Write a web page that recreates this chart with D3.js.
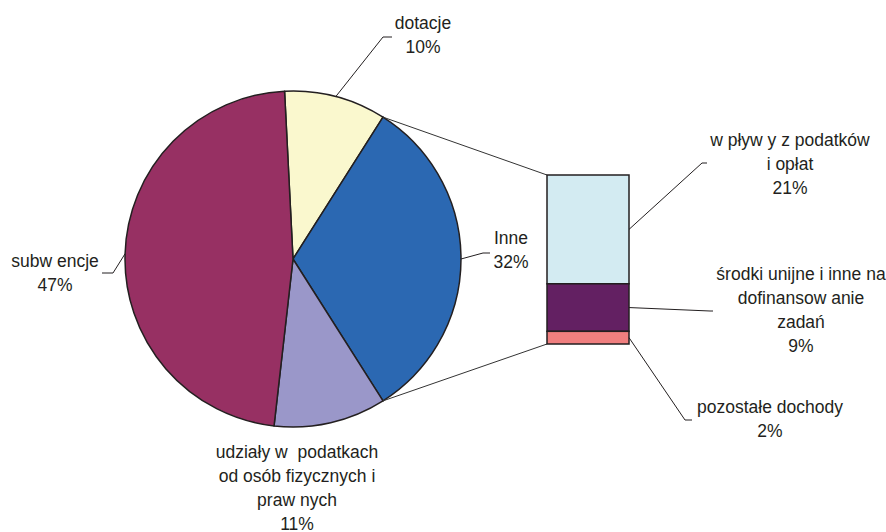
<!DOCTYPE html>
<html>
<head>
<meta charset="utf-8">
<script src="https://cdn.jsdelivr.net/npm/d3@7"></script>
<style>
  body { margin: 0; background: #fff; }
  text { font-family: "Liberation Sans", Arial, sans-serif; font-size: 17.5px; fill: #231f20; white-space: pre; }
</style>
</head>
<body>
<script>
// main pie (clockwise from the top)
var mainNames = [['dotacje'], ['Inne'], ['udziały w  podatkach', 'od osób fizycznych i', 'praw nych'], ['subw encje']];
var mainValues = [9.8, 32.0, 10.8, 47.4];
var mainColors = ['#faf8ce', '#2b68b2', '#9a97c9', '#973063'];
var otherIndex = 1;

// breakdown of "Inne" (top to bottom)
var barNames = [['w pływ y z podatków', 'i opłat'], ['środki unijne i inne na', 'dofinansow anie', 'zadań'], ['pozostałe dochody']];
var barValues = [20.6, 9.0, 2.4];
var barColors = ['#d3ebf2', '#632062', '#f07f7f'];

// label layout: [x, baseline of first line, elbow x, elbow y, end x, end y]
var mainLabelPos = [
  [423, 29, 383, 37, 392, 37],
  [511, 244, 483, 253, 490, 253],
  [297, 458, null],
  [55, 267, 113, 273, 102, 273]
];
var barLabelPos = [
  [790, 146, 702, 163, 707, 163],
  [801, 280, 710, 311, 713, 311],
  [770, 413, 685, 420, 692, 420]
];

var W = 886, H = 532;
var cx = 293, cy = 259, R = 168;
var barX0 = 547, barX1 = 629, barTop = 175, barBottom = 344;
var lineH = 24;

var svg = d3.select('body').append('svg')
    .attr('width', W)
    .attr('height', H);

var total = d3.sum(mainValues);
var pct = function(v) { return Math.round(v / total * 100) + '%'; };

// rotate so the "Inne" slice is centred on the right side
var before = d3.sum(mainValues.slice(0, otherIndex)) + mainValues[otherIndex] / 2;
var start = Math.PI / 2 - before / total * 2 * Math.PI;

var pie = d3.pie().sort(null).value(function(d) { return d; })
    .startAngle(start).endAngle(start + 2 * Math.PI);
var arcs = pie(mainValues);
var arc = d3.arc().innerRadius(0).outerRadius(R);

var g = svg.append('g').attr('transform', 'translate(' + cx + ',' + cy + ')');

function polar(a, r) {
  return [cx + r * Math.sin(a), cy - r * Math.cos(a)];
}

// connector lines from the pie to the bar
var o = arcs[otherIndex];
var p1 = polar(o.startAngle, R), p2 = polar(o.endAngle, R);
svg.append('line').attr('x1', p1[0]).attr('y1', p1[1]).attr('x2', barX0).attr('y2', barTop)
    .attr('stroke', '#333').attr('stroke-width', 1);
svg.append('line').attr('x1', p2[0]).attr('y1', p2[1]).attr('x2', barX0).attr('y2', barBottom)
    .attr('stroke', '#333').attr('stroke-width', 1);

g.selectAll('path')
    .data(arcs)
  .enter().append('path')
    .attr('d', arc)
    .attr('fill', function(d, i) { return mainColors[i]; })
    .attr('stroke', '#231f20')
    .attr('stroke-width', 1.5)
    .attr('stroke-linejoin', 'round');

// stacked bar
var barTotal = d3.sum(barValues);
var y = d3.scaleLinear().domain([0, barTotal]).range([barTop, barBottom]);
var cum = 0;
var barData = barValues.map(function(v, i) {
  var d = { i: i, y0: cum, y1: cum + v };
  cum += v;
  return d;
});

svg.selectAll('rect.bar')
    .data(barData)
  .enter().append('rect')
    .attr('class', 'bar')
    .attr('x', barX0)
    .attr('width', barX1 - barX0)
    .attr('y', function(d) { return y(d.y0); })
    .attr('height', function(d) { return y(d.y1) - y(d.y0); })
    .attr('fill', function(d) { return barColors[d.i]; })
    .attr('stroke', '#231f20')
    .attr('stroke-width', 1.5);

function drawLabel(lines, pos, start) {
  var t = svg.append('text')
      .attr('x', pos[0])
      .attr('y', pos[1])
      .attr('text-anchor', 'middle');
  lines.forEach(function(l, k) {
    t.append('tspan').attr('x', pos[0]).attr('y', pos[1] + k * lineH).text(l);
  });
  if (pos[2] != null && start) {
    svg.append('polyline')
        .attr('points', [start, [pos[2], pos[3]], [pos[4], pos[5]]].join(' '))
        .attr('fill', 'none')
        .attr('stroke', '#231f20')
        .attr('stroke-width', 1);
  }
}

arcs.forEach(function(a, i) {
  var mid = (a.startAngle + a.endAngle) / 2;
  drawLabel(mainNames[i].concat([pct(mainValues[i])]), mainLabelPos[i], polar(mid, R));
});

barData.forEach(function(d, i) {
  var s = [barX1, (y(d.y0) + y(d.y1)) / 2];
  drawLabel(barNames[i].concat([pct(barValues[i])]), barLabelPos[i], s);
});
</script>
</body>
</html>
